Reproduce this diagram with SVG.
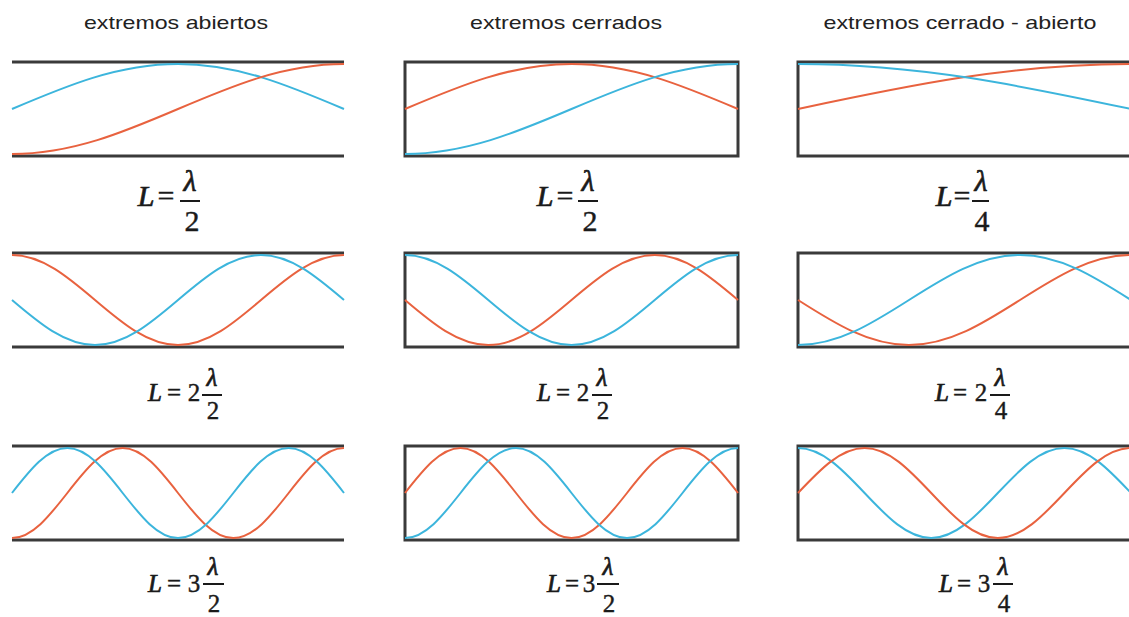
<svg xmlns="http://www.w3.org/2000/svg" width="1129" height="617" viewBox="0 0 1129 617">
<style>
.bg{fill:#ffffff}
.hdr{font-family:"Liberation Sans",Arial,sans-serif;font-size:19px;fill:#222;text-anchor:middle}
.frame{fill:none;stroke:#3a3a3a;stroke-width:3}
.red{fill:none;stroke:#e8623f;stroke-width:2;vector-effect:non-scaling-stroke}
.cyan{fill:none;stroke:#3cb5dc;stroke-width:2;vector-effect:non-scaling-stroke}
.fi{font-family:"Liberation Serif","Times New Roman",serif;font-style:italic;fill:#1a1a1a;stroke:#1a1a1a;stroke-width:0.7;text-anchor:middle}
.fr{font-family:"Liberation Serif","Times New Roman",serif;fill:#1a1a1a;stroke:#1a1a1a;stroke-width:0.4;text-anchor:middle}
.bar{stroke:#1a1a1a;stroke-width:2}
.f1{font-size:30px}
.f2{font-size:25px}
</style>
<rect class="bg" x="0" y="0" width="1129" height="617"/>

<g id="headers">
<text class="hdr" x="176" y="29" textLength="184" lengthAdjust="spacingAndGlyphs">extremos abiertos</text>
<text class="hdr" x="566" y="29" textLength="192" lengthAdjust="spacingAndGlyphs">extremos cerrados</text>
<text class="hdr" x="960" y="29" textLength="273" lengthAdjust="spacingAndGlyphs">extremos cerrado - abierto</text>
</g>

<!-- Column 1: open ends -->
<g id="panel-open-1">
<line class="frame" x1="12" y1="62" x2="344" y2="62"/>
<line class="frame" x1="12" y1="156" x2="344" y2="156"/>
<path class="cyan" transform="translate(12 109) scale(166 45)" d="M0 0 C0.326 -0.512 0.638 -1 1 -1 C1.362 -1 1.674 -0.512 2 0"/>
<path class="red" transform="translate(12 109) scale(166 45)" d="M0 1 C0.362 1 0.674 0.512 1 0 C1.326 -0.512 1.638 -1 2 -1"/>
</g>
<g id="panel-open-2">
<line class="frame" x1="12" y1="253" x2="344" y2="253"/>
<line class="frame" x1="12" y1="347" x2="344" y2="347"/>
<path class="red" transform="translate(12 300) scale(83 45)" d="M0 -1 C0.362 -1 0.674 -0.512 1 0 C1.326 0.512 1.638 1 2 1 C2.362 1 2.674 0.512 3 0 C3.326 -0.512 3.638 -1 4 -1"/>
<path class="cyan" transform="translate(12 300) scale(83 45)" d="M0 0 C0.326 0.512 0.638 1 1 1 C1.362 1 1.674 0.512 2 0 C2.326 -0.512 2.638 -1 3 -1 C3.362 -1 3.674 -0.512 4 0"/>
</g>
<g id="panel-open-3">
<line class="frame" x1="12" y1="446" x2="344" y2="446"/>
<line class="frame" x1="12" y1="540" x2="344" y2="540"/>
<path class="red" transform="translate(12 493) scale(55.333 45)" d="M0 1 C0.362 1 0.674 0.512 1 0 C1.326 -0.512 1.638 -1 2 -1 C2.362 -1 2.674 -0.512 3 0 C3.326 0.512 3.638 1 4 1 C4.362 1 4.674 0.512 5 0 C5.326 -0.512 5.638 -1 6 -1"/>
<path class="cyan" transform="translate(12 493) scale(55.333 45)" d="M0 0 C0.326 -0.512 0.638 -1 1 -1 C1.362 -1 1.674 -0.512 2 0 C2.326 0.512 2.638 1 3 1 C3.362 1 3.674 0.512 4 0 C4.326 -0.512 4.638 -1 5 -1 C5.362 -1 5.674 -0.512 6 0"/>
</g>

<!-- Column 2: closed ends -->
<g id="panel-closed-1">
<rect class="frame" x="405" y="62" width="333" height="94"/>
<path class="red" transform="translate(405 109) scale(166.5 45)" d="M0 0 C0.326 -0.512 0.638 -1 1 -1 C1.362 -1 1.674 -0.512 2 0"/>
<path class="cyan" transform="translate(405 109) scale(166.5 45)" d="M0 1 C0.362 1 0.674 0.512 1 0 C1.326 -0.512 1.638 -1 2 -1"/>
</g>
<g id="panel-closed-2">
<rect class="frame" x="405" y="253" width="333" height="94"/>
<path class="red" transform="translate(405 300) scale(83.25 45)" d="M0 0 C0.326 0.512 0.638 1 1 1 C1.362 1 1.674 0.512 2 0 C2.326 -0.512 2.638 -1 3 -1 C3.362 -1 3.674 -0.512 4 0"/>
<path class="cyan" transform="translate(405 300) scale(83.25 45)" d="M0 -1 C0.362 -1 0.674 -0.512 1 0 C1.326 0.512 1.638 1 2 1 C2.362 1 2.674 0.512 3 0 C3.326 -0.512 3.638 -1 4 -1"/>
</g>
<g id="panel-closed-3">
<rect class="frame" x="405" y="446" width="333" height="94"/>
<path class="red" transform="translate(405 493) scale(55.5 45)" d="M0 0 C0.326 -0.512 0.638 -1 1 -1 C1.362 -1 1.674 -0.512 2 0 C2.326 0.512 2.638 1 3 1 C3.362 1 3.674 0.512 4 0 C4.326 -0.512 4.638 -1 5 -1 C5.362 -1 5.674 -0.512 6 0"/>
<path class="cyan" transform="translate(405 493) scale(55.5 45)" d="M0 1 C0.362 1 0.674 0.512 1 0 C1.326 -0.512 1.638 -1 2 -1 C2.362 -1 2.674 -0.512 3 0 C3.326 0.512 3.638 1 4 1 C4.362 1 4.674 0.512 5 0 C5.326 -0.512 5.638 -1 6 -1"/>
</g>

<!-- Column 3: closed - open -->
<g id="panel-mixed-1">
<rect class="frame" x="798" y="62" width="333" height="94"/>
<path class="red" transform="translate(798 109) scale(333 45)" d="M0 0 C0.326 -0.512 0.638 -1 1 -1"/>
<path class="cyan" transform="translate(798 109) scale(333 45)" d="M0 -1 C0.362 -1 0.674 -0.512 1 0"/>
</g>
<g id="panel-mixed-2">
<rect class="frame" x="798" y="253" width="333" height="94"/>
<path class="red" transform="translate(798 300) scale(111 45)" d="M0 0 C0.326 0.512 0.638 1 1 1 C1.362 1 1.674 0.512 2 0 C2.326 -0.512 2.638 -1 3 -1"/>
<path class="cyan" transform="translate(798 300) scale(111 45)" d="M0 1 C0.362 1 0.674 0.512 1 0 C1.326 -0.512 1.638 -1 2 -1 C2.362 -1 2.674 -0.512 3 0"/>
</g>
<g id="panel-mixed-3">
<rect class="frame" x="798" y="446" width="333" height="94"/>
<path class="cyan" transform="translate(798 493) scale(66.6 45)" d="M0 -1 C0.362 -1 0.674 -0.512 1 0 C1.326 0.512 1.638 1 2 1 C2.362 1 2.674 0.512 3 0 C3.326 -0.512 3.638 -1 4 -1 C4.362 -1 4.674 -0.512 5 0"/>
<path class="red" transform="translate(798 493) scale(66.6 45)" d="M0 0 C0.326 -0.512 0.638 -1 1 -1 C1.362 -1 1.674 -0.512 2 0 C2.326 0.512 2.638 1 3 1 C3.362 1 3.674 0.512 4 0 C4.326 -0.512 4.638 -1 5 -1"/>
</g>

<!-- Formulas -->
<g id="formula-open-1" class="f1">
<text class="fi" x="146" y="206">L</text><text class="fr" x="166" y="206">=</text>
<text class="fi" x="190" y="191">λ</text><line class="bar" x1="180" y1="201" x2="200" y2="201"/><text class="fr" x="192" y="231">2</text>
</g>
<g id="formula-closed-1" class="f1">
<text class="fi" x="545" y="206">L</text><text class="fr" x="565" y="206">=</text>
<text class="fi" x="588" y="191">λ</text><line class="bar" x1="578" y1="201" x2="598" y2="201"/><text class="fr" x="590" y="231">2</text>
</g>
<g id="formula-mixed-1" class="f1">
<text class="fi" x="944" y="206">L</text><text class="fr" x="962" y="206">=</text>
<text class="fi" x="981" y="191">λ</text><line class="bar" x1="972" y1="201" x2="989" y2="201"/><text class="fr" x="982" y="231">4</text>
</g>

<g id="formula-open-2" class="f2">
<text class="fi" x="155" y="401">L</text><text class="fr" x="174" y="401">=</text><text class="fr" x="194" y="401">2</text>
<text class="fi" x="212" y="386">λ</text><line class="bar" x1="202" y1="395" x2="222" y2="395"/><text class="fr" x="213" y="419">2</text>
</g>
<g id="formula-closed-2" class="f2">
<text class="fi" x="544" y="401">L</text><text class="fr" x="563" y="401">=</text><text class="fr" x="583" y="401">2</text>
<text class="fi" x="602" y="386">λ</text><line class="bar" x1="592" y1="395" x2="612" y2="395"/><text class="fr" x="603" y="419">2</text>
</g>
<g id="formula-mixed-2" class="f2">
<text class="fi" x="942" y="401">L</text><text class="fr" x="960" y="401">=</text><text class="fr" x="981" y="401">2</text>
<text class="fi" x="1000" y="386">λ</text><line class="bar" x1="990" y1="395" x2="1010" y2="395"/><text class="fr" x="1001" y="419">4</text>
</g>

<g id="formula-open-3" class="f2">
<text class="fi" x="155" y="592">L</text><text class="fr" x="174" y="592">=</text><text class="fr" x="194" y="592">3</text>
<text class="fi" x="213" y="575">λ</text><line class="bar" x1="203" y1="584" x2="224" y2="584"/><text class="fr" x="214" y="612">2</text>
</g>
<g id="formula-closed-3" class="f2">
<text class="fi" x="554" y="592">L</text><text class="fr" x="572" y="592">=</text><text class="fr" x="589" y="592">3</text>
<text class="fi" x="608" y="575">λ</text><line class="bar" x1="597" y1="584" x2="619" y2="584"/><text class="fr" x="609" y="612">2</text>
</g>
<g id="formula-mixed-3" class="f2">
<text class="fi" x="946" y="592">L</text><text class="fr" x="964" y="592">=</text><text class="fr" x="984" y="592">3</text>
<text class="fi" x="1003" y="575">λ</text><line class="bar" x1="993" y1="584" x2="1013" y2="584"/><text class="fr" x="1004" y="612">4</text>
</g>
</svg>
